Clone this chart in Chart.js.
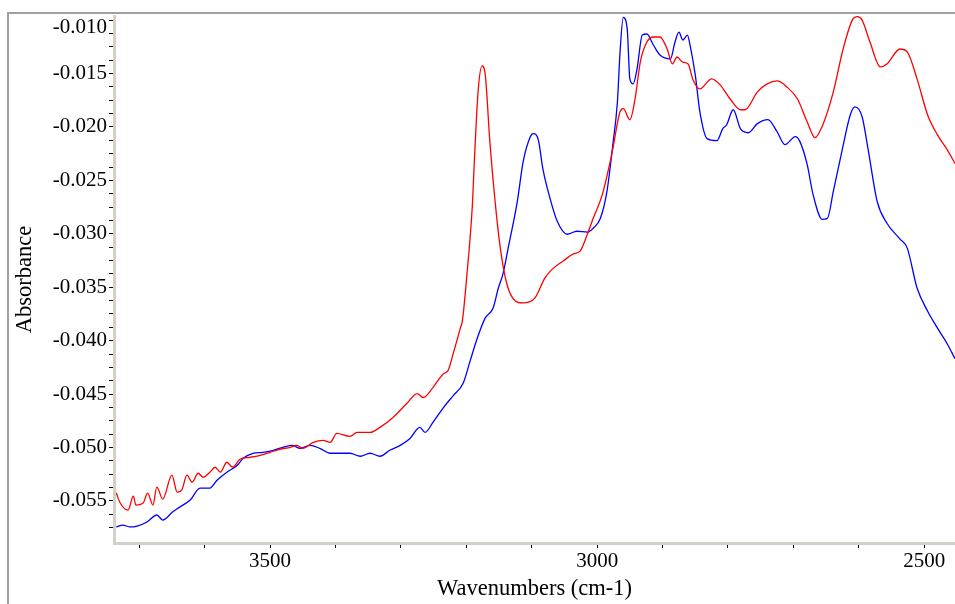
<!DOCTYPE html>
<html>
<head>
<meta charset="utf-8">
<script src="https://cdn.jsdelivr.net/npm/chart.js@4/dist/chart.umd.min.js"></script>
<style>
  html, body { margin: 0; padding: 0; background: #ffffff; }
  #wrap { width: 955px; height: 604px; position: relative; }
</style>
</head>
<body>
<div id="wrap"><canvas id="c" width="955" height="604"></canvas></div>
<script>
// ---- data ----
const redWavenumbers = [3735,3729,3717,3709,3705,3694,3687,3679,3673,3664,3650,3642,3635,3627,3619,3610,3602,3592,3584,3576,3566,3557,3546,3531,3515,3500,3485,3469,3459,3450,3434,3419,3408,3398,3378,3367,3358,3347,3332,3312,3291,3275,3266,3251,3235,3228,3220,3209,3206,3199,3191,3187,3182,3176,3171,3164,3156,3148,3138,3125,3113,3095,3080,3067,3052,3037,3026,3015,3006,2992,2980,2976,2965,2960,2950,2942,2934,2924,2914,2904,2893,2885,2878,2870,2861,2854,2843,2825,2812,2797,2781,2774,2755,2740,2725,2710,2694,2679,2667,2655,2639,2624,2610,2602,2595,2583,2567,2557,2537,2526,2511,2495,2480,2465,2453];
const redAbsorbance = [-0.05427,-0.05520,-0.05586,-0.05455,-0.05539,-0.05520,-0.05427,-0.05539,-0.05371,-0.05483,-0.05259,-0.05418,-0.05399,-0.05259,-0.05325,-0.05241,-0.05278,-0.05231,-0.05185,-0.05231,-0.05138,-0.05185,-0.05110,-0.05092,-0.05073,-0.05045,-0.05017,-0.04998,-0.04980,-0.05008,-0.04952,-0.04933,-0.04952,-0.04868,-0.04896,-0.04859,-0.04859,-0.04859,-0.04812,-0.04719,-0.04588,-0.04495,-0.04532,-0.04439,-0.04309,-0.04281,-0.04122,-0.03880,-0.03815,-0.03377,-0.02761,-0.02230,-0.01671,-0.01429,-0.01513,-0.02137,-0.02696,-0.03134,-0.03470,-0.03628,-0.03647,-0.03600,-0.03414,-0.03321,-0.03255,-0.03190,-0.03162,-0.03004,-0.02855,-0.02631,-0.02323,-0.02202,-0.01857,-0.01829,-0.01932,-0.01736,-0.01391,-0.01205,-0.01158,-0.01158,-0.01270,-0.01410,-0.01345,-0.01391,-0.01410,-0.01550,-0.01643,-0.01550,-0.01606,-0.01736,-0.01839,-0.01839,-0.01671,-0.01597,-0.01569,-0.01625,-0.01736,-0.01951,-0.02100,-0.01979,-0.01671,-0.01270,-0.01000,-0.00968,-0.01000,-0.01205,-0.01438,-0.01410,-0.01270,-0.01298,-0.01550,-0.01885,-0.02072,-0.02212,-0.02342];

const blueWavenumbers = [3735,3725,3714,3703,3688,3673,3664,3649,3638,3622,3607,3592,3581,3566,3550,3541,3526,3511,3495,3480,3466,3454,3439,3424,3408,3388,3378,3362,3347,3332,3317,3301,3286,3271,3263,3251,3235,3220,3205,3194,3183,3171,3159,3151,3144,3136,3122,3113,3102,3098,3090,3083,3072,3061,3046,3031,3015,3006,2995,2985,2976,2969,2965,2960,2954,2950,2945,2939,2931,2924,2914,2904,2888,2881,2875,2869,2862,2858,2850,2843,2832,2817,2808,2802,2792,2781,2769,2755,2739,2725,2713,2697,2690,2679,2670,2656,2648,2639,2625,2613,2606,2595,2586,2572,2557,2537,2526,2511,2495,2480,2465,2453];
const blueAbsorbance = [-0.05744,-0.05726,-0.05744,-0.05735,-0.05697,-0.05632,-0.05679,-0.05604,-0.05558,-0.05492,-0.05380,-0.05380,-0.05306,-0.05231,-0.05166,-0.05101,-0.05054,-0.05045,-0.05026,-0.04998,-0.04980,-0.05008,-0.04980,-0.05008,-0.05054,-0.05054,-0.05054,-0.05082,-0.05054,-0.05082,-0.05026,-0.04980,-0.04915,-0.04812,-0.04859,-0.04765,-0.04626,-0.04514,-0.04402,-0.04187,-0.03973,-0.03787,-0.03694,-0.03507,-0.03377,-0.03134,-0.02696,-0.02323,-0.02090,-0.02062,-0.02118,-0.02389,-0.02668,-0.02883,-0.03004,-0.02976,-0.02985,-0.02948,-0.02855,-0.02603,-0.02165,-0.01764,-0.01298,-0.00975,-0.01084,-0.01550,-0.01597,-0.01457,-0.01140,-0.01130,-0.01233,-0.01326,-0.01363,-0.01205,-0.01112,-0.01186,-0.01140,-0.01233,-0.01513,-0.01857,-0.02109,-0.02128,-0.02016,-0.01979,-0.01839,-0.02016,-0.02054,-0.01969,-0.01932,-0.02044,-0.02165,-0.02090,-0.02137,-0.02351,-0.02631,-0.02864,-0.02855,-0.02603,-0.02202,-0.01885,-0.01811,-0.01904,-0.02202,-0.02696,-0.02901,-0.03050,-0.03134,-0.03507,-0.03722,-0.03880,-0.04029,-0.04169];

// ---- ticks ----
const xTickValues = [2500,2600,2700,2800,2900,3000,3100,3200,3300,3400,3500,3600,3700];
const xTickLabels = [3500, 3000, 2500];
const yTickValues = [-0.0575,-0.05625,-0.055,-0.05375,-0.0525,-0.05125,-0.05,-0.04875,-0.0475,-0.04625,-0.045,-0.04375,-0.0425,-0.04125,-0.04,-0.03875,-0.0375,-0.03625,-0.035,-0.03375,-0.0325,-0.03125,-0.03,-0.02875,-0.0275,-0.02625,-0.025,-0.02375,-0.0225,-0.02125,-0.02,-0.01875,-0.0175,-0.01625,-0.015,-0.01375,-0.0125,-0.01125,-0.01];
const yTickLabels = ['-0.010','-0.015','-0.020','-0.025','-0.030','-0.035','-0.040','-0.045','-0.050','-0.055'];

const xMin = 2453, xMax = 3738.5;
const yMin = -0.05894, yMax = -0.00962;

function pts(xs, ys) { return xs.map((x, i) => ({ x: x, y: ys[i] })); }

const serif = '"Liberation Serif", "Times New Roman", serif';

const framePlugin = {
  id: 'frame',
  beforeDraw(chart) {
    const ctx = chart.ctx;
    ctx.save();
    ctx.fillStyle = '#ffffff';
    ctx.fillRect(0, 0, chart.width, chart.height);
    ctx.strokeStyle = '#a0a0a0';
    ctx.lineWidth = 2;
    ctx.beginPath();
    ctx.moveTo(8, chart.height);
    ctx.lineTo(8, 13);
    ctx.lineTo(chart.width, 13);
    ctx.stroke();
    ctx.restore();
  }
};

new Chart(document.getElementById('c'), {
  type: 'line',
  data: {
    datasets: [
      { label: 'red', data: pts(redWavenumbers, redAbsorbance), borderColor: '#ff0000', borderWidth: 1.3, pointRadius: 0, fill: false, cubicInterpolationMode: 'monotone' },
      { label: 'blue', data: pts(blueWavenumbers, blueAbsorbance), borderColor: '#0000ff', borderWidth: 1.3, pointRadius: 0, fill: false, cubicInterpolationMode: 'monotone' }
    ]
  },
  options: {
    responsive: false,
    animation: false,
    events: [],
    layout: { padding: { top: 14, left: 0, right: 0, bottom: 0 } },
    plugins: { legend: { display: false }, tooltip: { enabled: false } },
    scales: {
      x: {
        type: 'linear',
        reverse: true,
        min: xMin, max: xMax,
        afterFit(scale) { scale.height = 61; },
        afterBuildTicks(scale) { scale.ticks = xTickValues.map(v => ({ value: v })); },
        border: { display: true, color: '#d4d0c8', width: 3 },
        grid: { drawOnChartArea: false, drawTicks: true, tickLength: 5, tickColor: '#000000', lineWidth: 1 },
        ticks: {
          autoSkip: false, maxRotation: 0, padding: 1, color: '#000000',
          font: { family: serif, size: 21 },
          callback: (v) => xTickLabels.includes(v) ? String(v) : ''
        },
        title: { display: true, text: 'Wavenumbers (cm-1)', color: '#000000', font: { family: serif, size: 22.5 }, padding: { top: 0, bottom: 1 } }
      },
      y: {
        type: 'linear',
        min: yMin, max: yMax,
        afterFit(scale) { scale.width = 114; },
        afterBuildTicks(scale) { scale.ticks = yTickValues.map(v => ({ value: v })); },
        border: { display: true, color: '#d4d0c8', width: 3 },
        grid: { drawOnChartArea: false, drawTicks: true, tickLength: 5, tickColor: '#000000', lineWidth: 1 },
        ticks: {
          autoSkip: false, padding: 2, color: '#000000',
          font: (ctx) => {
            const v = ctx.tick ? ctx.tick.value : 0;
            if (Math.abs(v + 0.01) < 1e-7) return { family: serif, size: 21, lineHeight: 0.67 };
            return { family: serif, size: 21 };
          },
          callback: (v) => {
            const s = v.toFixed(3);
            if (!yTickLabels.includes(s) || Math.abs(v - Number(s)) > 1e-7) return '';
            if (s === '-0.010') return ['', s];
            return s;
          }
        },
        title: { display: true, text: 'Absorbance', color: '#000000', font: { family: serif, size: 22.5 }, padding: { top: 12, bottom: 0 } }
      }
    }
  },
  plugins: [framePlugin]
});
</script>
</body>
</html>
